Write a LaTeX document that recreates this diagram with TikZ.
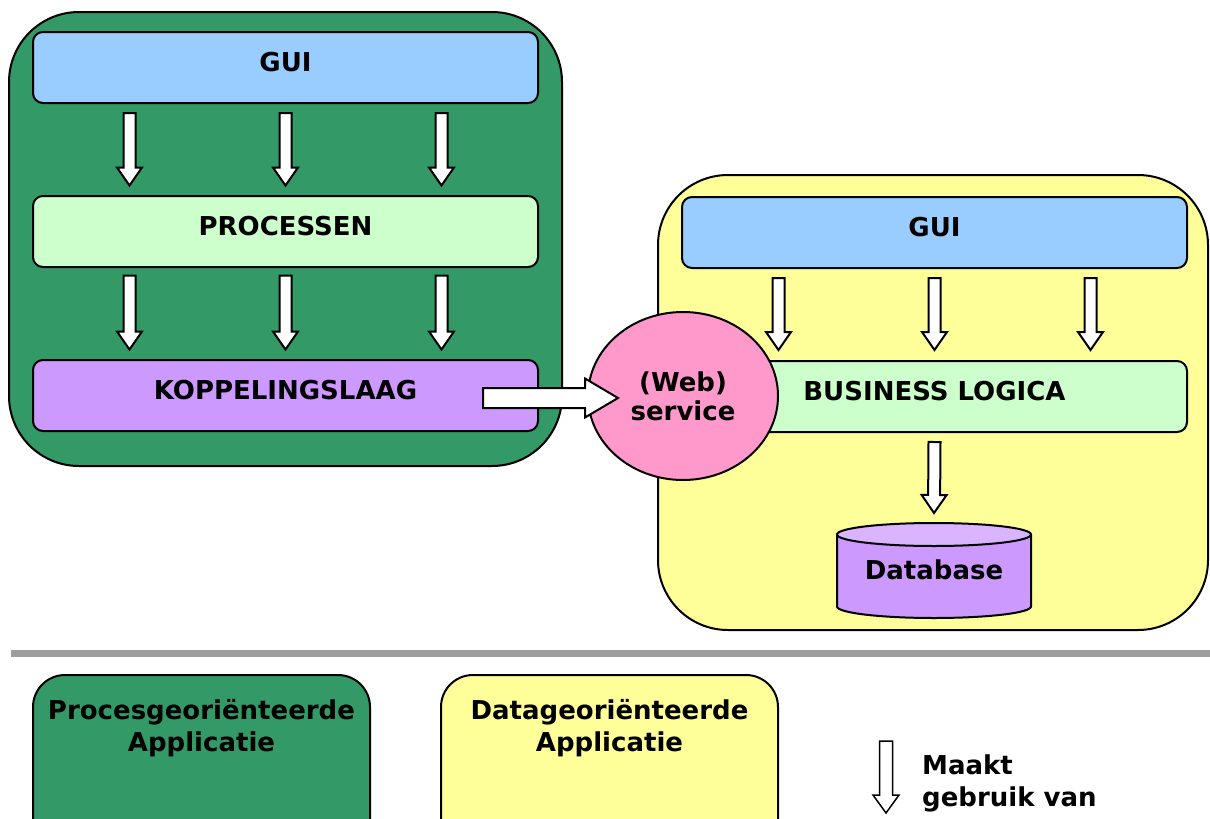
\documentclass[tikz,border=0pt]{standalone}
\usepackage{fontspec}
\setmainfont{DejaVu Sans}
\usetikzlibrary{calc,shapes.geometric}

\definecolor{procgreen}{HTML}{339966}
\definecolor{guiblue}{HTML}{99CCFF}
\definecolor{paleleaf}{HTML}{CCFFCC}
\definecolor{lilac}{HTML}{CC99FF}
\definecolor{lilactop}{HTML}{DAB4FF}
\definecolor{paleyellow}{HTML}{FFFF99}
\definecolor{rosepink}{HTML}{FF99CC}
\definecolor{rulegrey}{HTML}{9C9C9C}

\tikzset{
  labelfont/.style={font=\fontsize{26}{30}\selectfont\bfseries},
  container/.style={draw=black, line width=2pt, rounded corners=70pt,
    inner sep=0pt, outer sep=0pt},
  layer/.style={draw=black, line width=2pt, rounded corners=10pt,
    minimum width=505pt, minimum height=71pt, inner sep=0pt, outer sep=0pt,
    labelfont, text height=19pt, text depth=12pt},
  legendbox/.style={draw=black, line width=2pt, rounded corners=32pt,
    minimum width=337pt, minimum height=190pt, inner sep=0pt, outer sep=0pt},
  legendtext/.style={labelfont, align=center, inner sep=0pt,
    font=\fontsize{26}{32}\selectfont\bfseries},
  fatarrow/.style={draw=black, fill=white, line width=2pt, line join=miter},
}

% block arrow from #2 to #3: shaft half-width #4, head half-width #5, head length #6
\newcommand\fatarrow[6][]{%
  \draw[fatarrow,#1] let \p1=#2, \p2=#3,
      \n1={atan2(\y2-\y1,\x2-\x1)}, \n2={veclen(\x2-\x1,\y2-\y1)} in
    [shift={(\p1)}, rotate=\n1]
    (0pt,#4) -- ({\n2*1pt-#6},#4) -- ({\n2*1pt-#6},#5) -- ({\n2*1pt},0pt)
    -- ({\n2*1pt-#6},-#5) -- ({\n2*1pt-#6},-#4) -- (0pt,-#4) -- cycle;}

\begin{document}
\begin{tikzpicture}[x=1pt, y=-1pt]
\useasboundingbox (0,0) rectangle (1210,819);

% ---- process oriented application ----
\node[container, fill=procgreen, minimum width=553pt, minimum height=454pt]
  (procapp) at (285.5,239) {};
\node[layer, fill=guiblue]  (gui1) at (285.5,67.5)  {GUI};
\node[layer, fill=paleleaf] (proc) at (285.5,231.5) {PROCESSEN};
\node[layer, fill=lilac]    (kop)  at (285.5,395.5) {KOPPELINGSLAAG};

\foreach \dx in {-156,0,156} {
  \fatarrow{($(gui1.south)+(\dx,10)$)}{($(proc.north)+(\dx,-10.5)$)}{6pt}{12.5pt}{18pt}
  \fatarrow{($(proc.south)+(\dx,8.5)$)}{($(kop.north)+(\dx,-10.5)$)}{6pt}{12.5pt}{18pt}
}

% ---- data oriented application ----
\node[container, fill=paleyellow, minimum width=550pt, minimum height=455pt]
  (dataapp) at (933,402.5) {};
\node[layer, fill=guiblue]  (gui2) at (934.5,232.5) {GUI};
\node[layer, fill=paleleaf] (blog) at (934.5,396.5) {BUSINESS LOGICA};

\foreach \dx in {-156,0,156} {
  \fatarrow{($(gui2.south)+(\dx,10)$)}{($(blog.north)+(\dx,-11)$)}{6pt}{12.5pt}{18pt}
}

% database cylinder
\node[labelfont, minimum width=194pt, minimum height=95pt, inner sep=0pt,
  outer sep=0pt, text height=19pt, text depth=0pt] (db) at (934,570.5) {};
\fill[lilac] ($(db.north west)+(0,11.5)$) -- ($(db.south west)+(0,-11.5)$)
  arc[start angle=180, end angle=360, x radius=97pt, y radius=11.5pt]
  -- ($(db.north east)+(0,11.5)$) -- cycle;
\draw[line width=2pt] ($(db.north west)+(0,11.5)$) -- ($(db.south west)+(0,-11.5)$)
  arc[start angle=180, end angle=360, x radius=97pt, y radius=11.5pt]
  -- ($(db.north east)+(0,11.5)$);
\draw[line width=2pt, fill=lilactop] ($(db.north)+(0,11.5)$)
  ellipse[x radius=97pt, y radius=11.5pt];
\node[labelfont, inner sep=0pt] at ($(db.center)+(0,-0.5)$) {Database};

\fatarrow{($(blog.south)+(0,10)$)}{($(db.north)+(0,-10)$)}{6pt}{12.5pt}{18pt}

% web service interface
\node[ellipse, draw=black, line width=2pt, fill=rosepink, minimum width=190pt,
  minimum height=168pt, inner sep=0pt, outer sep=0pt, align=center,
  font=\fontsize{26}{29}\selectfont\bfseries] (ws) at (683,396) {(Web)\\service};

\fatarrow{($(kop.east)+(-55,2.5)$)}{($(ws.west)+(30,2)$)}{10pt}{19.5pt}{33pt}

% ---- legend ----
\draw[rulegrey, line width=7pt] (11,653.5) -- (1210,653.5);

\node[legendbox, fill=procgreen]  (legproc) at (201.5,770) {};
\node[legendtext, anchor=north] at ($(legproc.north)+(0,24)$)
  {Procesgeoriënteerde\\Applicatie};
\node[legendbox, fill=paleyellow] (legdata) at (609.5,770) {};
\node[legendtext, anchor=north] at ($(legdata.north)+(0,24)$)
  {Datageoriënteerde\\Applicatie};

\coordinate (usesfrom) at (886,741);
\coordinate (usesto)   at (886,813);
\fatarrow[line width=1.5pt]{(usesfrom)}{(usesto)}{6.5pt}{13pt}{18pt}
\node[legendtext, align=left, anchor=north west] (uses) at (922,755)
  {Maakt\\gebruik van};

\end{tikzpicture}
\end{document}
